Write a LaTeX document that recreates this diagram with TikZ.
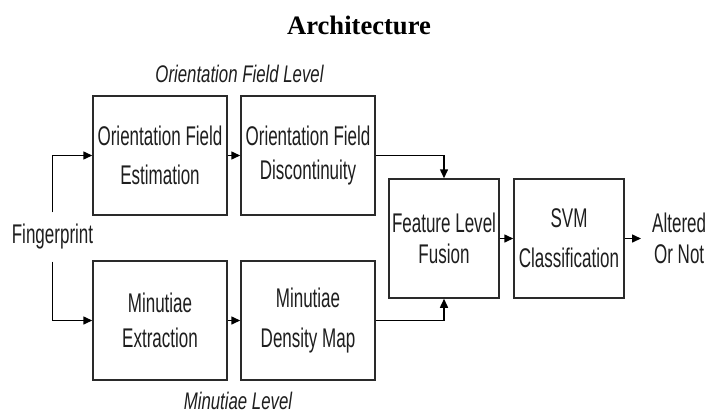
\documentclass[tikz,border=0pt]{standalone}
\usepackage{fontspec}
\usetikzlibrary{arrows.meta,positioning}
\newfontfamily\boxfont{Liberation Sans}[FakeStretch=0.63]
\newfontfamily\lvlfont{Liberation Sans}[FakeStretch=0.70]
\newfontfamily\titlefont{Liberation Serif}
\definecolor{ink}{HTML}{1E1E1E}
\definecolor{edge}{HTML}{2A2A2A}
\tikzset{
  blk/.style={draw=edge, line width=1.5pt, minimum height=119pt, inner sep=0pt, align=center, text=ink},
  wide/.style={blk, minimum width=134pt},
  narrow/.style={blk, minimum width=110pt},
  arr/.style={line width=1.5pt, draw=black, -{Triangle[length=9pt,width=8pt]}},
  lvl/.style={font=\lvlfont\itshape\fontsize{24}{28}\selectfont, text=ink, inner sep=0pt, anchor=base},
  plain/.style={text=ink, align=center}
}
\begin{document}
\begin{tikzpicture}[x=1pt,y=-1pt]
\useasboundingbox (0,0) rectangle (708,415);
\node[anchor=base, inner sep=0pt, font=\titlefont\bfseries\fontsize{26.6}{30}\selectfont] (title) at (359,34) {Architecture};
\node[lvl] (lvlo) at (239.5,82) {Orientation Field Level};
\node[lvl] (lvlm) at (238,409) {Minutiae Level};

\node[wide, font=\boxfont\fontsize{27}{39}\selectfont] (b1) at (160,155.5) {Orientation Field\\Estimation};
\node[wide, font=\boxfont\fontsize{27}{34}\selectfont] (b2) at (308,155.5) {Orientation Field\\Discontinuity};
\node[wide, font=\boxfont\fontsize{27}{35}\selectfont] (b3) at (160,320.5) {Minutiae\\Extraction};
\node[wide, font=\boxfont\fontsize{27}{40}\selectfont] (b4) at (308,320.5) {Minutiae\\Density Map};
\node[narrow, font=\boxfont\fontsize{27}{31}\selectfont] (b5) at (444,238.5) {Feature Level\\Fusion};
\node[narrow, font=\boxfont\fontsize{27}{40}\selectfont] (b6) at (569,238.5) {SVM\\Classification};

\node[plain, font=\boxfont\fontsize{27}{31}\selectfont, inner xsep=0pt, inner ysep=12pt, text height=19pt, text depth=6pt] (fp) at (52.5,237) {Fingerprint};
\node[plain, font=\boxfont\fontsize{27}{31}\selectfont, anchor=west, inner xsep=11pt] (out) at (641,238.5) {Altered\\Or Not};

\draw[arr] (fp.north) |- (b1.west);
\draw[arr] (fp.south) |- (b3.west);
\draw[arr] (b1.east) -- (b2.west);
\draw[arr] (b3.east) -- (b4.west);
\draw[arr] (b2.east) -| (b5.north);
\draw[arr] (b4.east) -| (b5.south);
\draw[arr] (b5.east) -- (b6.west);
\draw[arr] (b6.east) -- (out.west);
\end{tikzpicture}
\end{document}
